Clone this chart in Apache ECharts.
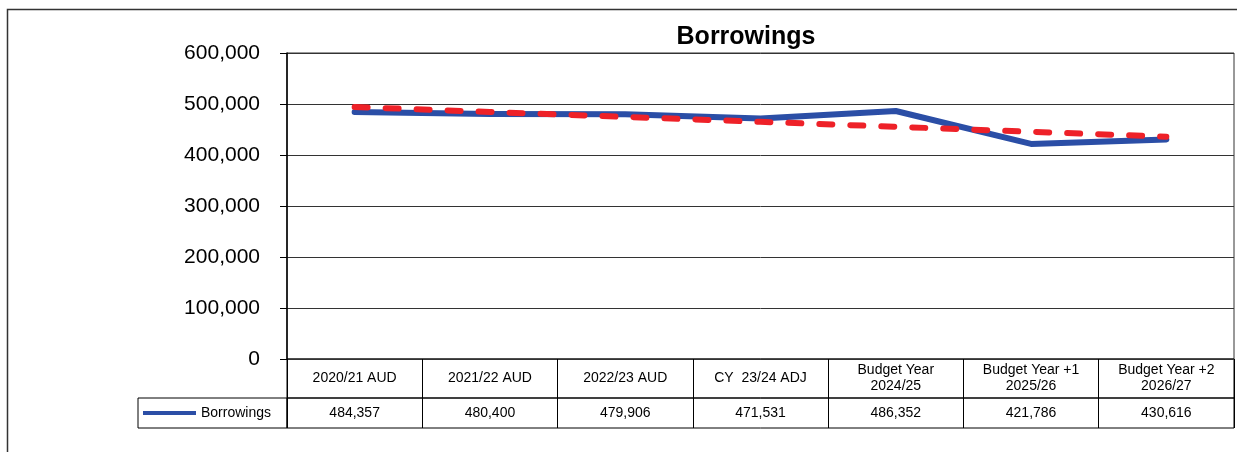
<!DOCTYPE html>
<html>
<head>
<meta charset="utf-8">
<title>Borrowings</title>
<script src="https://cdn.jsdelivr.net/npm/echarts@6/dist/echarts.min.js"></script>
<style>
  html, body { margin: 0; padding: 0; background: #fff; }
  #chart { width: 1237px; height: 452px; }
</style>
</head>
<body>
<div id="chart"></div>
<script>
// data
const categories = ['2020/21 AUD', '2021/22 AUD', '2022/23 AUD', 'CY  23/24 ADJ', 'Budget Year\n2024/25', 'Budget Year +1\n2025/26', 'Budget Year +2\n2026/27']
const borrowings = [484357, 480400, 479906, 471531, 486352, 421786, 430616]
// red dashed trend line as drawn in the picture
const trend = [494100, 484400, 474700, 465000, 455300, 445600, 435800]
const yMin = 0
const yMax = 600000
const yStep = 100000

const font = "'Liberation Sans', Arial, sans-serif"
const fmt = v => Number(v).toLocaleString('en-US')

// grids: 0 = plot, 1 = category row, 2 = value row, 3 = legend cell
const PLOT_LEFT = 287
const PLOT_RIGHT = 3

const chart = echarts.init(document.getElementById('chart'))

chart.setOption({
  backgroundColor: '#fff',
  animation: false,
  title: {
    text: 'Borrowings',
    left: 746,
    top: 25,
    padding: 0,
    textAlign: 'center',
    textStyle: { fontFamily: font, fontSize: 25, fontWeight: 'bold', color: '#000' }
  },
  legend: {
    data: ['Borrowings'],
    left: 143,
    top: 406,
    padding: 0,
    icon: 'rect',
    itemWidth: 53,
    itemHeight: 4,
    itemGap: 5,
    textStyle: { fontFamily: font, fontSize: 14, color: '#000' }
  },
  graphic: [
    {
      type: 'rect',
      silent: true,
      z: -10,
      shape: { x: 7.5, y: 9.5, width: 1260, height: 480 },
      style: { fill: 'none', stroke: '#333', lineWidth: 1.5 }
    }
  ],
  grid: [
    { left: PLOT_LEFT, right: PLOT_RIGHT, top: 53, height: 306, show: true, borderColor: '#333', borderWidth: 1, backgroundColor: 'transparent' },
    { left: PLOT_LEFT, right: PLOT_RIGHT, top: 359, height: 39, show: true, borderColor: '#000', borderWidth: 1, backgroundColor: 'transparent' },
    { left: PLOT_LEFT, right: PLOT_RIGHT, top: 398, height: 30, show: true, borderColor: '#000', borderWidth: 1, backgroundColor: 'transparent' },
    { left: 138, top: 398, width: 149, height: 30, show: true, borderColor: '#000', borderWidth: 1, backgroundColor: 'transparent' }
  ],
  xAxis: [
    {
      gridIndex: 0,
      type: 'category',
      data: categories,
      boundaryGap: true,
      axisLine: { show: false },
      axisTick: { show: false },
      axisLabel: { show: false },
      splitLine: { show: false }
    },
    {
      gridIndex: 1,
      type: 'category',
      data: categories,
      boundaryGap: true,
      axisLine: { show: false },
      axisTick: { show: false },
      splitLine: { show: true, interval: 0, lineStyle: { color: '#000', width: 1 } },
      axisLabel: {
        inside: true,
        interval: 0,
        margin: 19.5,
        verticalAlign: 'middle',
        align: 'center',
        lineHeight: 16,
        fontFamily: font,
        fontSize: 14,
        color: '#000'
      }
    },
    {
      gridIndex: 2,
      type: 'category',
      data: categories,
      boundaryGap: true,
      axisLine: { show: false },
      axisTick: { show: false },
      splitLine: { show: true, interval: 0, lineStyle: { color: '#000', width: 1 } },
      axisLabel: {
        inside: true,
        interval: 0,
        margin: 15,
        verticalAlign: 'middle',
        align: 'center',
        fontFamily: font,
        fontSize: 14,
        color: '#000',
        formatter: (v, i) => fmt(borrowings[i])
      }
    },
    { gridIndex: 3, type: 'category', data: [''], show: false }
  ],
  yAxis: [
    {
      gridIndex: 0,
      type: 'value',
      min: yMin,
      max: yMax,
      interval: yStep,
      axisLine: { show: true, lineStyle: { color: '#000', width: 1.5 } },
      axisTick: { show: true, length: 7, lineStyle: { color: '#000', width: 1 } },
      axisLabel: { margin: 27, fontFamily: font, fontSize: 21, color: '#000', formatter: fmt },
      splitLine: { show: true, lineStyle: { color: '#333', width: 1 } }
    },
    { gridIndex: 1, type: 'value', min: 0, max: 1, show: false },
    { gridIndex: 2, type: 'value', min: 0, max: 1, show: false },
    { gridIndex: 3, type: 'value', min: 0, max: 1, show: false }
  ],
  series: [
    {
      name: 'Borrowings',
      type: 'line',
      xAxisIndex: 0,
      yAxisIndex: 0,
      data: borrowings,
      showSymbol: false,
      symbol: 'none',
      z: 2,
      color: '#2b4ea6',
      lineStyle: { color: '#2b4ea6', width: 6, join: 'round', cap: 'round' }
    },
    {
      name: 'Trend',
      type: 'line',
      xAxisIndex: 0,
      yAxisIndex: 0,
      data: trend,
      showSymbol: false,
      symbol: 'none',
      z: 3,
      color: '#ee2128',
      lineStyle: { color: '#ee2128', width: 6, type: [13, 18], cap: 'round' }
    }
  ]
})
</script>
</body>
</html>
